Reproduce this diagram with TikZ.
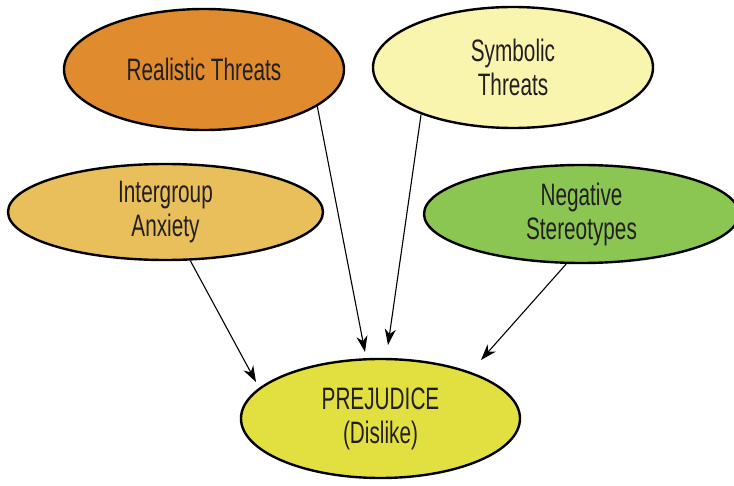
\documentclass[tikz,border=0pt]{standalone}
\usepackage{fontspec}
\setmainfont[FakeStretch=0.67]{Liberation Sans}
\usetikzlibrary{arrows.meta, shapes.geometric}

\definecolor{realfill}{HTML}{DF8B2E}
\definecolor{symbfill}{HTML}{FAF5AE}
\definecolor{anxfill}{HTML}{E9BF5C}
\definecolor{stereofill}{HTML}{8BC653}
\definecolor{prejfill}{HTML}{E2E040}
\definecolor{labeltext}{HTML}{231F20}

\begin{document}
\begin{tikzpicture}[x=1pt, y=-1pt,
    every node/.style={font=\fontsize{31}{34}\selectfont, text=labeltext, align=center},
    factor/.style={ellipse, draw=black, line width=2.4pt, inner sep=0pt},
    link/.style={line width=1.1pt, -{Stealth[length=16pt, width=11pt, inset=5pt]}}
]
\useasboundingbox (0,0) rectangle (734,486);

% Threat factors
\node[factor, fill=realfill, minimum width=280pt, minimum height=121pt] (real) at (204,69.5) {Realistic Threats};
\node[factor, fill=symbfill, minimum width=280pt, minimum height=121pt] (symb) at (513,67.5) {Symbolic\\Threats};
\node[factor, fill=anxfill, minimum width=315pt, minimum height=96pt] (anx) at (165.5,212) {Intergroup\\Anxiety};
\node[factor, fill=stereofill, minimum width=315pt, minimum height=98pt] (stereo) at (581.5,214) {Negative\\Stereotypes};

% Outcome
\node[factor, fill=prejfill, minimum width=279pt, minimum height=119pt] (prej) at (380.5,418.5) {PREJUDICE\\(Dislike)};

% Arrow tips stop short of the outcome
\coordinate (tipReal) at (365,352);
\coordinate (tipSymb) at (388,345);
\coordinate (tipAnx) at (256,382);
\coordinate (tipStereo) at (481,360);

\draw[link] (real.-18) -- (tipReal);
\draw[link] (symb.-153) -- (tipSymb);
\draw[link] (anx.-63) -- (tipAnx);
\draw[link] (stereo.-107) -- (tipStereo);

\end{tikzpicture}
\end{document}
